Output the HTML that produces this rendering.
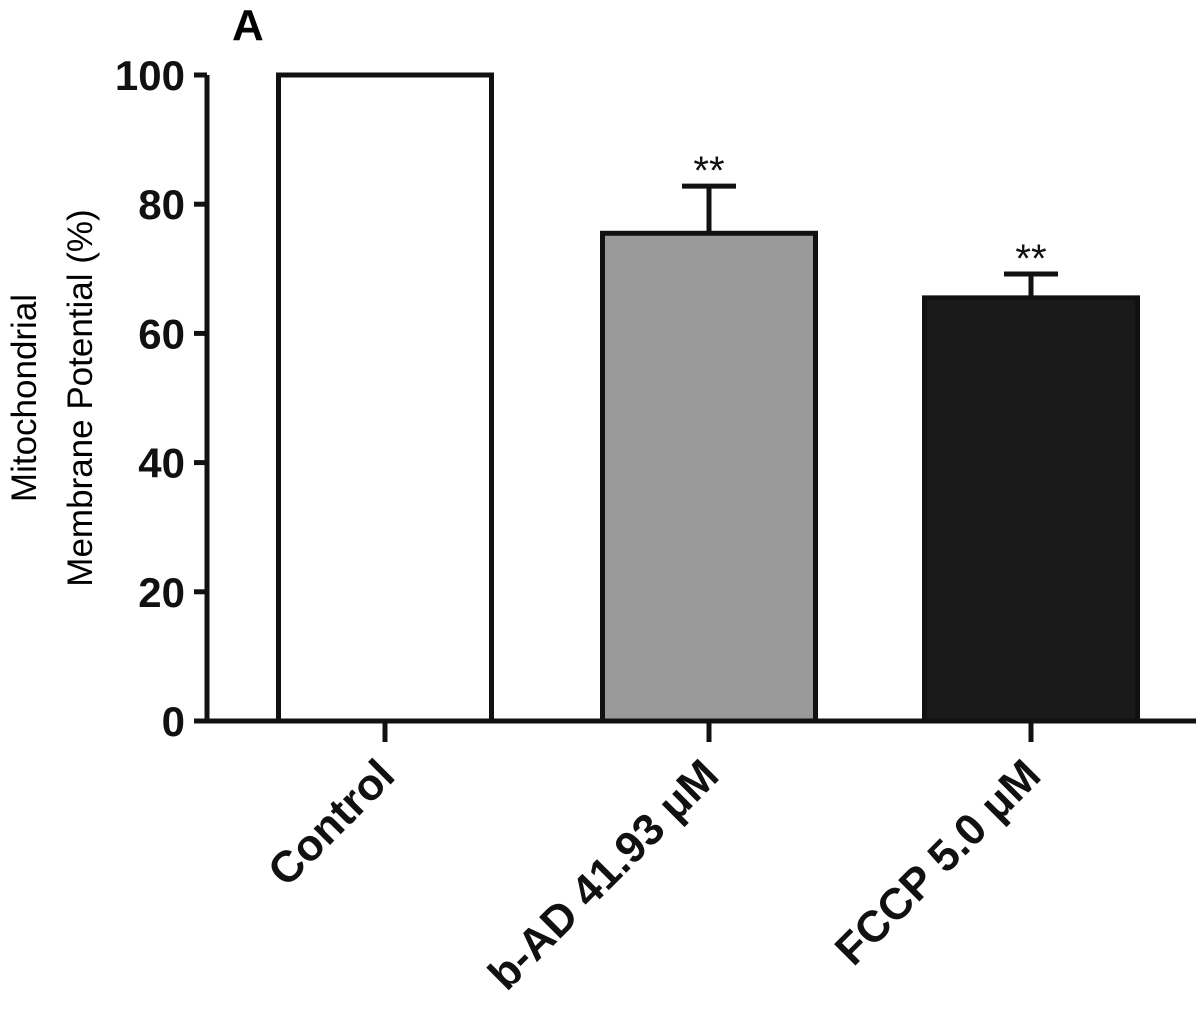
<!DOCTYPE html>
<html><head><meta charset="utf-8"><style>
body{margin:0;background:#fff}
svg{display:block;font-family:"Liberation Sans",Arial,sans-serif}
</style></head><body>
<svg id="chart" width="1200" height="1032">
<text x="232" y="40" font-size="44" font-weight="bold">A</text>
<g id="yaxis"></g>
<g id="bars"></g>
<g id="xaxis"></g>
<text transform="translate(36,398) rotate(-90)" text-anchor="middle" font-size="35"><tspan x="0" dy="0">Mitochondrial</tspan><tspan x="0" dy="56">Membrane Potential (%)</tspan></text>
</svg>
<script>
const categories=["Control","b-AD 41.93 μM","FCCP 5.0 μM"];
const values=[100,75.5,65.5];
const errors=[0,7.3,3.7];
const fills=["#ffffff","#999999","#1a1a1a"];
const sig=["","**","**"];
const yTicks=[0,20,40,60,80,100];
const NS="http://www.w3.org/2000/svg";
const y0=721,y100=75,axX=207;
const y=v=>y0+(y100-y0)*v/100;
const centers=[385,709,1031],bw=213;
function mk(t,a,p){const e=document.createElementNS(NS,t);for(const k in a)e.setAttribute(k,a[k]);p.appendChild(e);return e;}
const ya=document.getElementById('yaxis'),bg=document.getElementById('bars'),xa=document.getElementById('xaxis');
let l=mk('line',{x1:axX,y1:y(100),x2:axX,y2:y0+2,stroke:'#111','stroke-width':5},ya);


yTicks.forEach(t=>{
 let tk=mk('line',{x1:194,y1:y(t),x2:axX,y2:y(t),stroke:'#111','stroke-width':5},ya);
 
 
 let tx=mk('text',{x:185,y:y(t)+15,'text-anchor':'end','font-size':42,'font-weight':'bold',fill:'#111'},ya);
 tx.textContent=t;
 
 
});
categories.forEach((c,i)=>{
 const cx=centers[i];
 if(errors[i]>0){
  let e=mk('line',{x1:cx,y1:y(values[i]),x2:cx,y2:y(values[i]+errors[i]),stroke:'#111','stroke-width':5},bg);
  
  
  let cap=mk('line',{x1:cx-27,y1:y(values[i]+errors[i]),x2:cx+27,y2:y(values[i]+errors[i]),stroke:'#111','stroke-width':5},bg);
  
  
 }
 let r=mk('rect',{x:cx-bw/2,y:y(values[i]),width:bw,height:y0-y(values[i]),fill:fills[i],stroke:'#111','stroke-width':5},bg);
 
 
 if(sig[i]){
  let s=mk('text',{x:cx,y:y(values[i]+errors[i])-2,'text-anchor':'middle','font-size':40,fill:'#111'},bg);
  s.textContent=sig[i];
  
  
 }
 let tk=mk('line',{x1:cx,y1:y0,x2:cx,y2:742,stroke:'#111','stroke-width':5},xa);
 
 
 let lb=mk('text',{transform:`translate(${cx+12},${778}) rotate(-45)`,'text-anchor':'end','font-size':44,'font-weight':'bold',fill:'#111'},xa);
 lb.textContent=c;
 
 
});
let xl=mk('line',{x1:axX-2,y1:y0,x2:1196,y2:y0,stroke:'#111','stroke-width':5},xa);


</script>
</body></html>
